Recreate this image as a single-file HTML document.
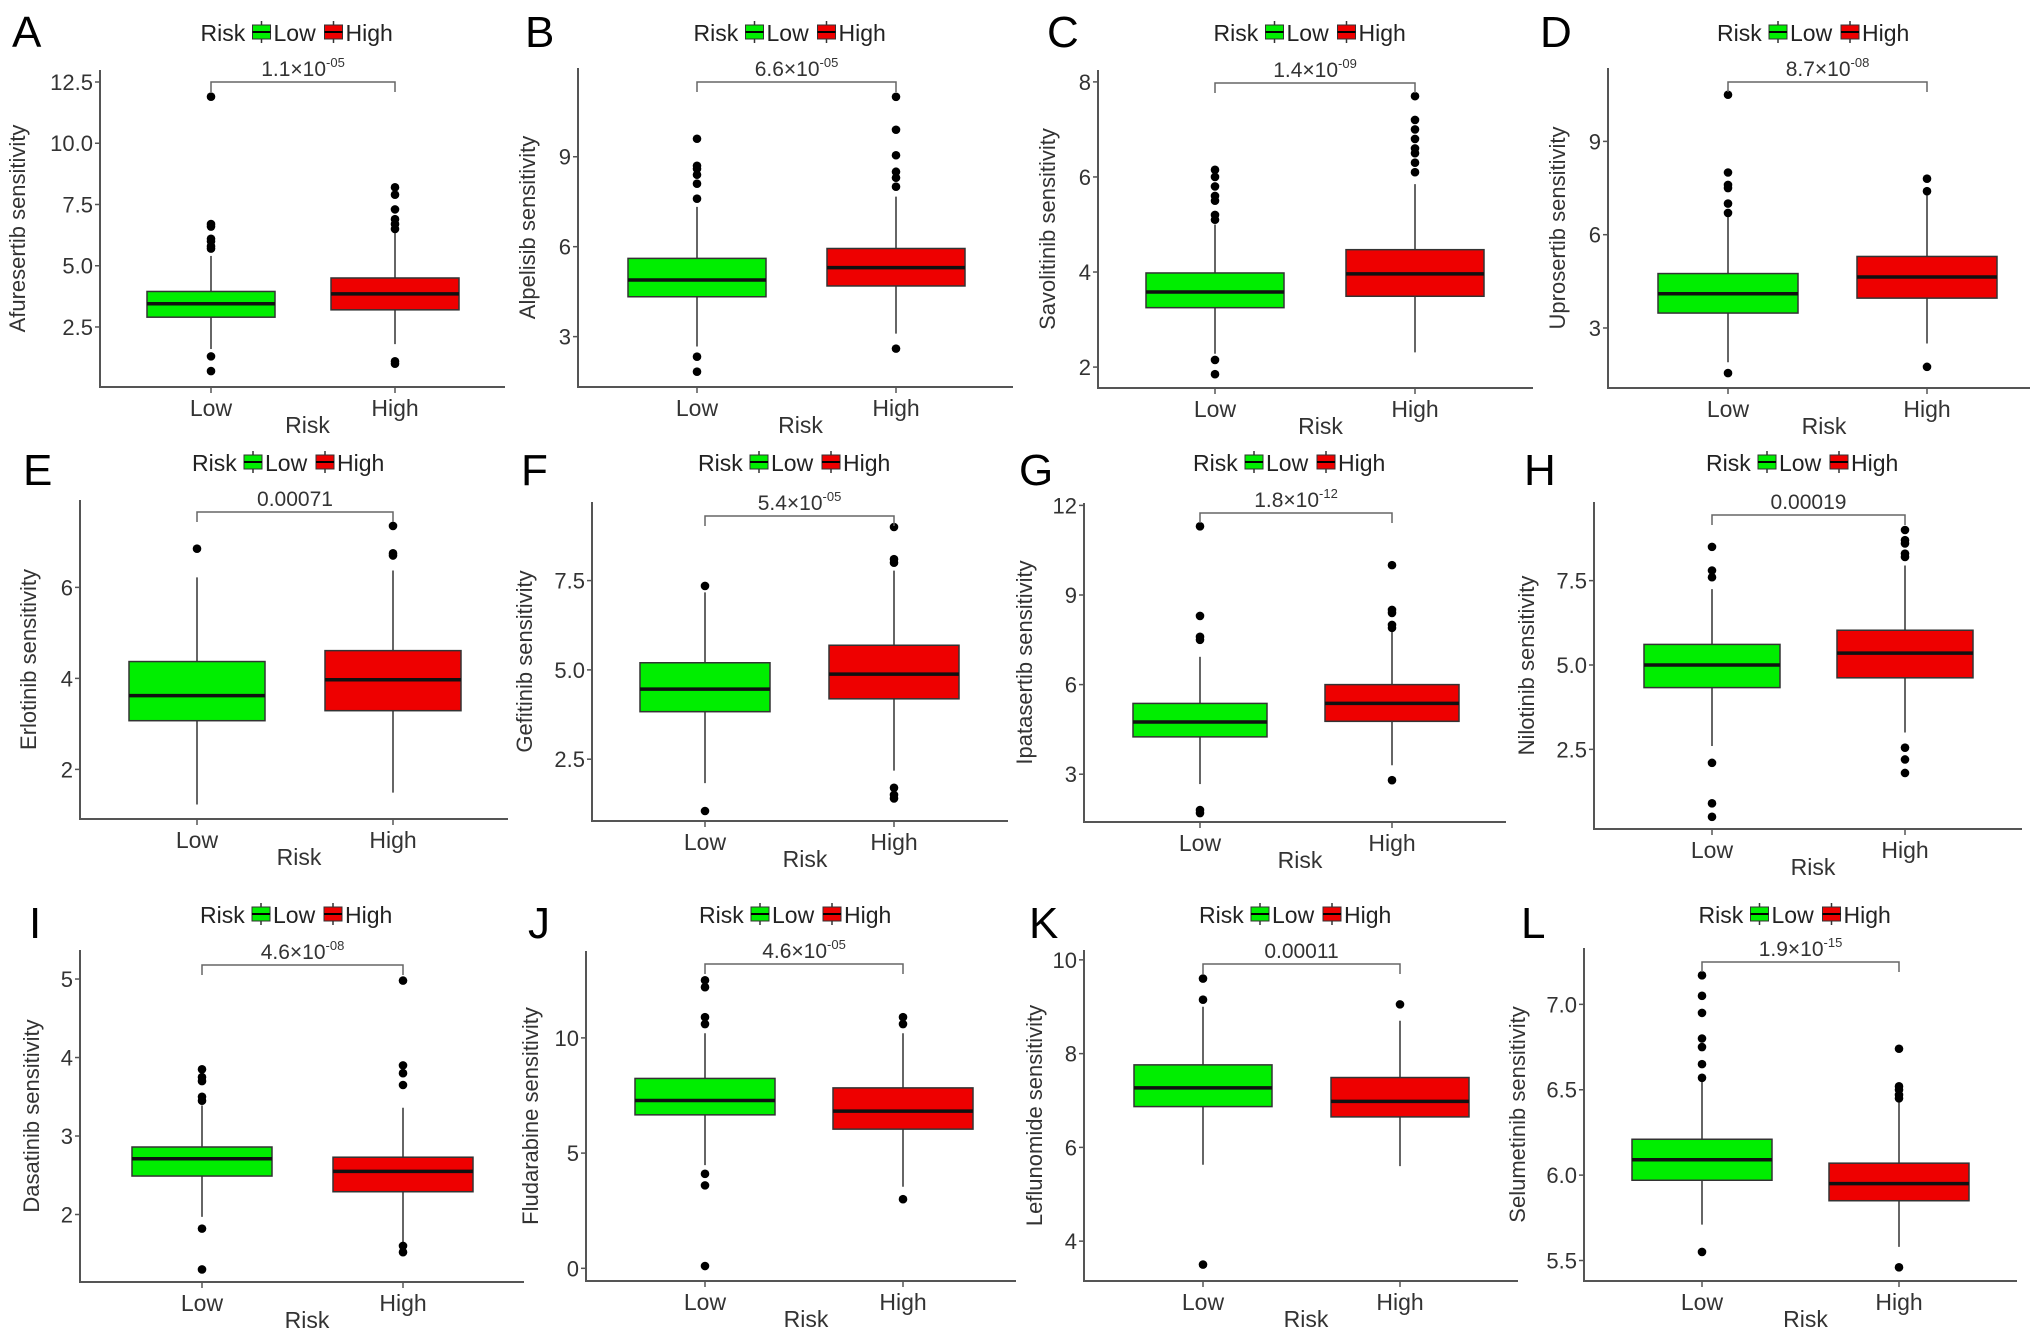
<!DOCTYPE html>
<html><head><meta charset="utf-8"><style>
html,body{margin:0;padding:0;background:#fff}
svg{display:block;font-family:"Liberation Sans",Arial,sans-serif}
</style></head><body>
<svg id="fig" width="2032" height="1335" viewBox="0 0 2032 1335" xmlns="http://www.w3.org/2000/svg"></svg>
<script>
// ---- data ----
const panelLetters = ["A","B","C","D","E","F","G","H","I","J","K","L"];
const drugNames = ["Afuresertib","Alpelisib","Savolitinib","Uprosertib","Erlotinib","Gefitinib","Ipatasertib","Nilotinib","Dasatinib","Fludarabine","Leflunomide","Selumetinib"];
const pMantissa = ["1.1","6.6","1.4","8.7","0.00071","5.4","1.8","0.00019","4.6","4.6","0.00011","1.9"];
const pExponent = ["-05","-05","-09","-08","","-05","-12","","-08","-05","","-15"];
const categories = ["Low","High"];
const yTicks = [
  ["2.5","5.0","7.5","10.0","12.5"],["3","6","9"],["2","4","6","8"],["3","6","9"],
  ["2","4","6"],["2.5","5.0","7.5"],["3","6","9","12"],["2.5","5.0","7.5"],
  ["2","3","4","5"],["0","5","10"],["4","6","8","10"],["5.5","6.0","6.5","7.0"]];
// [whiskerLow, q1, median, q3, whiskerHigh]
const lowStats = [
  [1.6,2.9,3.45,3.95,5.4],[2.67,4.33,4.89,5.61,7.33],[2.28,3.25,3.58,3.98,5.0],[1.9,3.48,4.1,4.75,6.6],
  [1.23,3.07,3.62,4.37,6.22],[1.83,3.83,4.46,5.2,7.17],[2.67,4.25,4.75,5.37,6.93],[2.6,4.33,5.0,5.61,7.25],
  [1.97,2.49,2.71,2.86,3.39],[4.48,6.66,7.28,8.24,10.2],[5.63,6.87,7.27,7.76,9.0],[5.71,5.97,6.09,6.21,6.55]];
const highStats = [
  [1.8,3.2,3.85,4.5,6.4],[3.1,4.69,5.3,5.94,7.67],[2.31,3.49,3.96,4.47,5.85],[2.5,3.96,4.64,5.3,7.3],
  [1.49,3.29,3.97,4.61,6.37],[2.18,4.19,4.88,5.69,7.78],[3.3,4.77,5.37,6.0,7.8],[3.0,4.62,5.35,6.03,7.95],
  [1.62,2.29,2.55,2.73,3.36],[3.54,6.04,6.82,7.83,10.2],[5.6,6.65,6.98,7.49,8.7],[5.58,5.85,5.95,6.07,6.44]];
const lowOutliers = [
  [11.9,6.7,6.6,6.1,6.0,5.8,5.7,1.3,0.7],[9.6,8.7,8.6,8.4,8.1,7.6,2.33,1.83],[6.15,6.0,5.8,5.6,5.5,5.2,5.1,2.15,1.85],[10.5,8.0,7.6,7.5,7.0,6.7,1.55],
  [6.85],[7.35,1.05],[11.3,8.3,7.6,7.5,1.8,1.7],[8.5,7.8,7.6,2.1,0.9,0.5],
  [3.85,3.75,3.7,3.5,3.45,1.82,1.3],[12.5,12.2,10.9,10.6,4.1,3.6,0.1],[9.6,9.15,3.5],[7.17,7.05,6.95,6.8,6.75,6.65,6.57,5.55]];
const highOutliers = [
  [8.2,7.9,7.3,6.9,6.7,6.5,1.1,1.0],[11.0,9.9,9.05,8.5,8.3,8.0,2.6],[7.7,7.2,7.0,6.8,6.6,6.5,6.3,6.1],[7.8,7.4,1.75],
  [7.35,6.75,6.7],[9.0,8.1,8.0,1.7,1.5,1.4],[10.0,8.5,8.4,8.0,7.9,2.8],[9.0,8.7,8.6,8.3,8.2,2.55,2.2,1.8],
  [4.98,3.9,3.8,3.65,1.6,1.52],[10.9,10.6,3.0],[9.05],[6.74,6.52,6.5,6.47,6.45,5.46]];
const yDomains = [[0.05,12.99],[1.32,11.96],[1.56,8.25],[1.07,11.36],[0.91,7.92],[0.77,9.7],[1.4,12.08],[0.14,9.83],[1.14,5.37],[-0.55,13.77],[3.15,10.21],[5.38,7.33]];

// ---- layout ----
const L = {
 axisX:[100,578,1098,1608,80,592,1084,1594,80,586,1084,1584],
 rightX:[505,1013,1533,2030,508,1008,1506,2022,524,1016,1518,2017],
 bottomY:[387,387,388,388,819,821,822,829,1282,1281,1281,1281],
 topY:[70,68,70,68,500,502,503,502,950,951,950,948],
 lowX:[211,697,1215,1728,197,705,1200,1712,202,705,1203,1702],
 highX:[395,896,1415,1927,393,894,1392,1905,403,903,1400,1899],
 halfW:[64,69,69,70,68,65,67,68,70,70,69,70],
 bracketY:[82,82,83,82,512,516,513,515,965,964,964,962],
 titleOff:[75,43,43,43,44,60,52,60,41,48,42,59],
 letterX:[12,525,1047,1540,23,521,1019,1524,29,528,1029,1521],
 letterY:[47,47,47,47,485,485,485,485,938,938,938,938],
 legendY:[41,41,41,41,471,471,471,471,923,923,923,923]
};
const NS="http://www.w3.org/2000/svg";
const svg=document.getElementById('fig');
function mk(tag,attrs,parent){const e=document.createElementNS(NS,tag);for(const k in attrs)e.setAttribute(k,attrs[k]);(parent||svg).appendChild(e);return e;}
const fills={Low:"#00ee00",High:"#ee0000"};

for(let i=0;i<12;i++){
  const g=mk('g',{});
  
  
  const ax=L.axisX[i],rx=L.rightX[i],by=L.bottomY[i],ty=L.topY[i];
  const d=yDomains[i];
  const y=v=>by-(v-d[0])/(d[1]-d[0])*(by-ty);
  const xs=[L.lowX[i],L.highX[i]];
  const cx=(ax+rx)/2;

  const letter=mk('text',{x:L.letterX[i],y:L.letterY[i],'font-size':44,fill:'#000'},g);
  letter.textContent=panelLetters[i];
  
  

  // legend
  const lg=mk('g',{},g);
  
  
  const ly=L.legendY[i];
  let lx=cx-102;
  const lt=mk('text',{x:lx,y:ly,'font-size':23,fill:'#222'},lg);lt.textContent='Risk';
  lx+=52;
  categories.forEach((c)=>{
    const ent=mk('g',{},lg);
    
    
    mk('line',{x1:lx+9,x2:lx+9,y1:ly-20,y2:ly+2,stroke:'#333','stroke-width':1.5},ent);
    mk('rect',{x:lx,y:ly-16,width:18,height:14,fill:fills[c],stroke:'#333','stroke-width':1},ent);
    mk('line',{x1:lx,x2:lx+18,y1:ly-9,y2:ly-9,stroke:'#000','stroke-width':2},ent);
    const t=mk('text',{x:lx+21,y:ly,'font-size':23,fill:'#222'},ent);t.textContent=c;
    lx+= c==='Low'?72:74;
  });

  // axes
  const axL=mk('line',{x1:ax,x2:ax,y1:ty,y2:by+1,stroke:'#555','stroke-width':2},g);
  
  
  const axB=mk('line',{x1:ax-1,x2:rx,y1:by,y2:by,stroke:'#555','stroke-width':2},g);
  
  

  yTicks[i].forEach(t=>{
    const yy=y(parseFloat(t));
    mk('line',{x1:ax-5,x2:ax,y1:yy,y2:yy,stroke:'#555','stroke-width':1.5},g);
    const tl=mk('text',{x:ax-7,y:yy+8,'font-size':22,fill:'#333','text-anchor':'end'},g);
    tl.textContent=t;
    
    
  });
  categories.forEach((c,k)=>{
    mk('line',{x1:xs[k],x2:xs[k],y1:by,y2:by+6,stroke:'#555','stroke-width':1.5},g);
    const tl=mk('text',{x:xs[k],y:by+29,'font-size':23,fill:'#333','text-anchor':'middle'},g);
    tl.textContent=c;
    
    
  });
  const xt=mk('text',{x:cx+5,y:by+46,'font-size':23,fill:'#333','text-anchor':'middle'},g);
  xt.textContent='Risk';
  
  
  const tx=ax-L.titleOff[i], tyc=(ty+by)/2;
  const yt=mk('text',{x:tx,y:tyc,'font-size':22,fill:'#333','text-anchor':'middle',transform:`rotate(-90 ${tx} ${tyc})`},g);
  yt.textContent=drugNames[i]+' sensitivity';
  
  

  // boxes
  [lowStats[i],highStats[i]].forEach((s,k)=>{
    const c=categories[k], x=xs[k], hw=L.halfW[i];
    const bg=mk('g',{},g);
    
    
    mk('line',{x1:x,x2:x,y1:y(s[0]),y2:y(s[4]),stroke:'#333','stroke-width':1.5},bg);
    mk('rect',{x:x-hw,y:y(s[3]),width:2*hw,height:y(s[1])-y(s[3]),fill:fills[c],stroke:'#333','stroke-width':1.5},bg);
    mk('line',{x1:x-hw,x2:x+hw,y1:y(s[2]),y2:y(s[2]),stroke:'#111','stroke-width':3.5},bg);
    const outs=k===0?lowOutliers[i]:highOutliers[i];
    outs.forEach(v=>{
      const o=mk('circle',{cx:x,cy:y(v),r:4.3,fill:'#000'},bg);
      
      
    });
  });

  // significance bracket
  const bY=L.bracketY[i];
  const br=mk('path',{d:`M${xs[0]} ${bY+10}V${bY}H${xs[1]}V${bY+10}`,fill:'none',stroke:'#666','stroke-width':1.5},g);
  
  
  const pt=mk('text',{x:(xs[0]+xs[1])/2,y:bY-6,'font-size':21,fill:'#333','text-anchor':'middle'},g);
  
  
  if(pExponent[i]){
    const a=mk('tspan',{},pt);a.textContent=pMantissa[i]+'×10';
    const b=mk('tspan',{dy:-9,'font-size':13},pt);b.textContent=pExponent[i];
  } else pt.textContent=pMantissa[i];
}
</script>
</body></html>
